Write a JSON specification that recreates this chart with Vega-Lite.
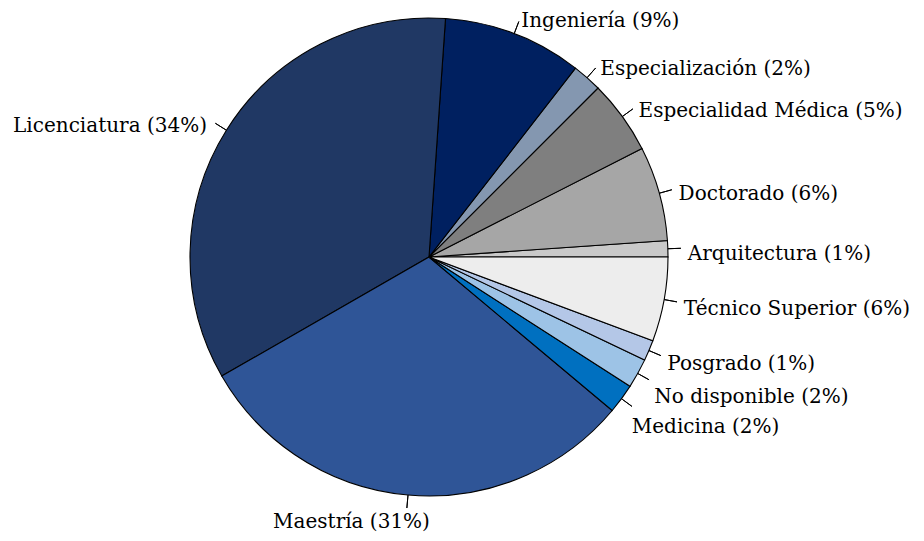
{
  "$schema": "https://vega.github.io/schema/vega-lite/v6.json",
  "width": 858,
  "height": 514,
  "autosize": "none",
  "padding": {"left": 0, "top": 0, "right": 66, "bottom": 27},
  "background": "white",
  "config": {"view": {"stroke": null}},
  "data": {
    "values": [
      {"cat": "Arquitectura", "value": 1.1, "label": "Arquitectura (1%)"},
      {"cat": "Doctorado", "value": 6.4, "label": "Doctorado (6%)"},
      {"cat": "Especialidad Médica", "value": 5.0, "label": "Especialidad Médica (5%)"},
      {"cat": "Especialización", "value": 2.0, "label": "Especialización (2%)"},
      {"cat": "Ingeniería", "value": 9.4, "label": "Ingeniería (9%)"},
      {"cat": "Licenciatura", "value": 34.4, "label": "Licenciatura (34%)"},
      {"cat": "Maestría", "value": 30.6, "label": "Maestría (31%)"},
      {"cat": "Medicina", "value": 2.0, "label": "Medicina (2%)"},
      {"cat": "No disponible", "value": 2.0, "label": "No disponible (2%)"},
      {"cat": "Posgrado", "value": 1.4, "label": "Posgrado (1%)"},
      {"cat": "Técnico Superior", "value": 5.7, "label": "Técnico Superior (6%)"}
    ]
  },
  "transform": [
    {"stack": "value", "groupby": [], "sort": [{"field": "cat", "order": "ascending"}], "offset": "normalize", "as": ["v0", "v1"]},
    {"calculate": "(datum.v0 + datum.v1) / 2", "as": "mid"}
  ],
  "layer": [
    {
      "mark": {"type": "arc", "outerRadius": 239, "stroke": "black", "strokeWidth": 1.1},
      "encoding": {
        "theta": {"field": "v0", "type": "quantitative", "stack": null, "scale": {"domain": [0, 1], "range": [1.5707963, -4.712389]}},
        "theta2": {"field": "v1"},
        "color": {
          "field": "cat", "type": "nominal", "legend": null,
          "scale": {
            "domain": ["Arquitectura", "Doctorado", "Especialidad Médica", "Especialización", "Ingeniería", "Licenciatura", "Maestría", "Medicina", "No disponible", "Posgrado", "Técnico Superior"],
            "range": ["#c9c9c9", "#a6a6a6", "#7f7f7f", "#8497b0", "#002060", "#203864", "#2f5597", "#0070c0", "#9dc3e6", "#b4c7e7", "#ededed"]
          }
        }
      }
    },
    {
      "mark": {"type": "arc", "innerRadius": 239, "outerRadius": 252, "stroke": "black", "strokeWidth": 1, "fill": null},
      "encoding": {
        "theta": {"field": "mid", "type": "quantitative", "stack": null, "scale": {"domain": [0, 1], "range": [1.5707963, -4.712389]}},
        "theta2": {"field": "mid"}
      }
    },
    {
      "transform": [{"filter": "indexof(['Medicina', 'No disponible', 'Licenciatura', 'Maestría'], datum.cat) < 0"}],
      "mark": {"type": "text", "align": "left", "baseline": "middle", "font": "DejaVu Serif", "fontSize": 20, "fill": "black", "radius": 259, "dy": 6},
      "encoding": {
        "theta": {"field": "mid", "type": "quantitative", "stack": null, "scale": {"domain": [0, 1], "range": [1.5707963, -4.712389]}},
        "text": {"field": "label"}
      }
    },
    {
      "transform": [{"filter": "datum.cat === 'Medicina'"}],
      "mark": {"type": "text", "align": "left", "baseline": "middle", "font": "DejaVu Serif", "fontSize": 20, "fill": "black", "radius": 258, "dx": -5, "dy": 17},
      "encoding": {
        "theta": {"field": "mid", "type": "quantitative", "stack": null, "scale": {"domain": [0, 1], "range": [1.5707963, -4.712389]}},
        "text": {"field": "label"}
      }
    },
    {
      "transform": [{"filter": "datum.cat === 'No disponible'"}],
      "mark": {"type": "text", "align": "left", "baseline": "middle", "font": "DejaVu Serif", "fontSize": 20, "fill": "black", "radius": 258, "dy": 14},
      "encoding": {
        "theta": {"field": "mid", "type": "quantitative", "stack": null, "scale": {"domain": [0, 1], "range": [1.5707963, -4.712389]}},
        "text": {"field": "label"}
      }
    },
    {
      "transform": [{"filter": "datum.cat === 'Licenciatura'"}],
      "mark": {"type": "text", "align": "right", "baseline": "middle", "font": "DejaVu Serif", "fontSize": 20, "fill": "black", "radius": 256, "dx": -5, "dy": 5},
      "encoding": {
        "theta": {"field": "mid", "type": "quantitative", "stack": null, "scale": {"domain": [0, 1], "range": [1.5707963, -4.712389]}},
        "text": {"field": "label"}
      }
    },
    {
      "transform": [{"filter": "datum.cat === 'Maestría'"}],
      "mark": {"type": "text", "align": "center", "baseline": "top", "font": "DejaVu Serif", "fontSize": 20, "fill": "black", "radius": 256, "dx": -55, "dy": 0},
      "encoding": {
        "theta": {"field": "mid", "type": "quantitative", "stack": null, "scale": {"domain": [0, 1], "range": [1.5707963, -4.712389]}},
        "text": {"field": "label"}
      }
    }
  ]
}
